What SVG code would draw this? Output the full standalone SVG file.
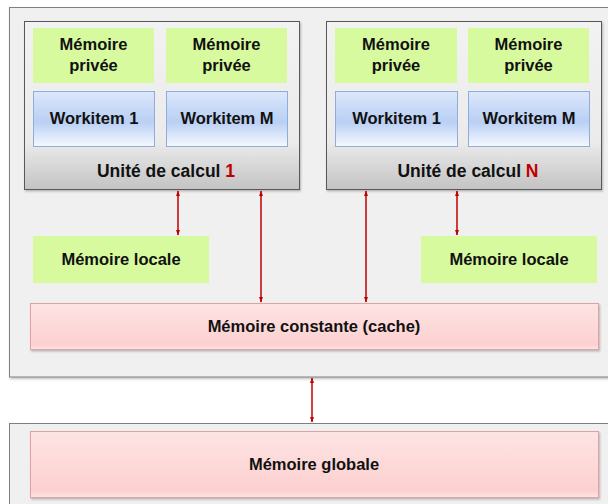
<svg xmlns="http://www.w3.org/2000/svg" width="608" height="504" viewBox="0 0 608 504">
<defs>
<linearGradient id="gUnit" x1="0" y1="0" x2="0" y2="1">
<stop offset="0" stop-color="#f2f2f2"/><stop offset="0.72" stop-color="#ebebeb"/><stop offset="1" stop-color="#c3c3c3"/>
</linearGradient>
<linearGradient id="gWork" x1="0" y1="0" x2="0" y2="1">
<stop offset="0" stop-color="#dde8fb"/><stop offset="0.55" stop-color="#b9cff4"/><stop offset="1" stop-color="#f5f9fe"/>
</linearGradient>
<linearGradient id="gPink" x1="0" y1="0" x2="0" y2="1">
<stop offset="0" stop-color="#fde4e4"/><stop offset="0.9" stop-color="#fdd0d0"/><stop offset="1" stop-color="#fbe6e6"/>
</linearGradient>
<marker id="ah" viewBox="0 0 10 10" refX="9" refY="5" markerWidth="6" markerHeight="6" orient="auto-start-reverse" markerUnits="userSpaceOnUse">
<path d="M0,1.5 L10,5 L0,8.5 z" fill="#c00000"/>
</marker>
<filter id="sh" x="-5%" y="-5%" width="110%" height="115%">
<feDropShadow dx="1" dy="1.5" stdDeviation="1" flood-color="#000" flood-opacity="0.25"/>
</filter>
</defs>
<style>
.t{font-family:"Liberation Sans",Arial,sans-serif;font-weight:bold;font-size:16.5px;fill:#111;text-anchor:middle}
.tu{font-size:17.5px}
.red{fill:#c00000}
.outer{fill:#f0f0f0;stroke:#7f7f7f;stroke-width:1}
.unit{fill:url(#gUnit);stroke:#595959;stroke-width:1}
.green{fill:#d7fa9e}
.work{fill:url(#gWork);stroke:#8eadd8;stroke-width:1}
.pink{fill:url(#gPink);stroke:#e3a2a2;stroke-width:1}
.arr{stroke:#c00000;stroke-width:1.5;fill:none;marker-start:url(#ah);marker-end:url(#ah)}
</style>
<rect width="608" height="504" fill="#ffffff"/>

<g id="device">
<rect class="outer" x="9.5" y="7.5" width="610" height="369.5" filter="url(#sh)"/>
</g>

<g id="unit1">
<rect class="unit" x="24.5" y="21.5" width="275" height="168" filter="url(#sh)"/>
<text class="t tu" x="166" y="177">Unité de calcul <tspan class="red">1</tspan></text>
</g>
<g id="unitN">
<rect class="unit" x="326.5" y="21.5" width="275" height="168" filter="url(#sh)"/>
<text class="t tu" x="468" y="177">Unité de calcul <tspan class="red">N</tspan></text>
</g>

<g id="priv1a"><rect class="green" x="33" y="28" width="121" height="55"/><text class="t" x="93.5" y="50">Mémoire</text><text class="t" x="93.5" y="71">privée</text></g>
<g id="priv1b"><rect class="green" x="166" y="28" width="121" height="55"/><text class="t" x="226.5" y="50">Mémoire</text><text class="t" x="226.5" y="71">privée</text></g>
<g id="privNa"><rect class="green" x="335" y="28" width="122" height="55"/><text class="t" x="396" y="50">Mémoire</text><text class="t" x="396" y="71">privée</text></g>
<g id="privNb"><rect class="green" x="468" y="28" width="121" height="55"/><text class="t" x="528.5" y="50">Mémoire</text><text class="t" x="528.5" y="71">privée</text></g>

<g id="work1a"><rect class="work" x="33.5" y="91.5" width="121" height="55"/><text class="t" x="94" y="124">Workitem 1</text></g>
<g id="work1b"><rect class="work" x="166.5" y="91.5" width="121" height="55"/><text class="t" x="227" y="124">Workitem M</text></g>
<g id="workNa"><rect class="work" x="335.5" y="91.5" width="122" height="55"/><text class="t" x="396.5" y="124">Workitem 1</text></g>
<g id="workNb"><rect class="work" x="468.5" y="91.5" width="121" height="55"/><text class="t" x="529" y="124">Workitem M</text></g>

<g id="local1"><rect class="green" x="33" y="236" width="176" height="47"/><text class="t" x="121" y="265">Mémoire locale</text></g>
<g id="localN"><rect class="green" x="421" y="236" width="176" height="47"/><text class="t" x="509" y="265">Mémoire locale</text></g>

<g id="constant"><rect class="pink" x="30.5" y="303.5" width="568" height="46" filter="url(#sh)"/><text class="t" x="314" y="332">Mémoire constante (cache)</text></g>

<g id="globalbox">
<rect class="outer" x="9.5" y="423.5" width="610" height="90"/>
</g>
<g id="global"><rect class="pink" x="30.5" y="431.5" width="568" height="66" filter="url(#sh)"/><text class="t" x="314" y="470">Mémoire globale</text></g>

<g id="connectors">
<line class="arr" x1="178" y1="191" x2="178" y2="235"/>
<line class="arr" x1="261" y1="191" x2="261" y2="302"/>
<line class="arr" x1="366" y1="191" x2="366" y2="302"/>
<line class="arr" x1="457" y1="191" x2="457" y2="235"/>
<line class="arr" x1="312" y1="378" x2="312" y2="422"/>
</g>
</svg>
